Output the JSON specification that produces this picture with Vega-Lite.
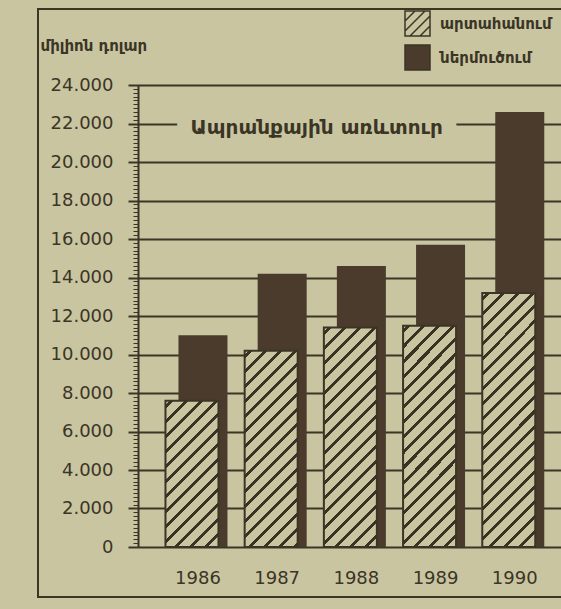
{
  "$schema": "https://vega.github.io/schema/vega-lite/v6.json",
  "width": 563,
  "height": 588,
  "autosize": {"type": "none"},
  "padding": {"left": 38, "top": 9, "right": -40, "bottom": 12},
  "background": "#c9c5a0",
  "config": {"view": {"stroke": "#3b3526", "strokeWidth": 2}},
  "data": {
    "values": [
      {"year": "1986", "series": "արտահանում", "value": 7600},
      {"year": "1986", "series": "ներմուծում", "value": 11000},
      {"year": "1987", "series": "արտահանում", "value": 10200},
      {"year": "1987", "series": "ներմուծում", "value": 14200},
      {"year": "1988", "series": "արտահանում", "value": 11400},
      {"year": "1988", "series": "ներմուծում", "value": 14600},
      {"year": "1989", "series": "արտահանում", "value": 11500},
      {"year": "1989", "series": "ներմուծում", "value": 15700},
      {"year": "1990", "series": "արտահանում", "value": 13200},
      {"year": "1990", "series": "ներմուծում", "value": 22600}
    ]
  },
  "resolve": {"scale": {"y": "shared"}, "axis": {"y": "independent"}},
  "layer": [
    {
      "transform": [{"filter": "datum.series === 'ներմուծում'"}],
      "mark": {"type": "bar", "size": 49, "xOffset": 5},
      "encoding": {
        "x": {
          "field": "year", "type": "nominal",
          "scale": {"range": [100, 563], "paddingInner": 0, "paddingOuter": 0.423, "align": 0.304},
          "axis": {"orient": "bottom", "offset": -50, "domain": false, "ticks": false, "grid": false, "labelAngle": 0, "labelPadding": 22, "labelFont": "DejaVu Sans", "labelFontSize": 18, "labelColor": "#3b3526", "title": null}
        },
        "y": {
          "field": "value", "type": "quantitative",
          "scale": {"domain": [0, 24000], "range": [538, 76], "nice": false},
          "axis": {
            "orient": "left", "offset": -100,
            "values": [0, 2000, 4000, 6000, 8000, 10000, 12000, 14000, 16000, 18000, 20000, 22000, 24000],
            "labelExpr": "replace(format(datum.value, ','), ',', '.')",
            "grid": true, "gridColor": "#3b3526", "gridWidth": 2, "gridOpacity": 1,
            "domain": true, "domainColor": "#3b3526", "domainWidth": 2,
            "ticks": true, "tickSize": 10, "tickWidth": 2, "tickColor": "#3b3526",
            "labelFont": "DejaVu Sans", "labelFontSize": 18, "labelColor": "#3b3526", "labelPadding": 15,
            "title": "միլիոն դոլար", "titleAngle": 0, "titleAlign": "left", "titleBaseline": "middle",
            "titleX": -98, "titleY": 36, "titleFont": "DejaVu Sans", "titleFontSize": 15, "titleFontWeight": "bold", "titleColor": "#3b3526"
          }
        },
        "fill": {
          "field": "series", "type": "nominal",
          "scale": {
            "domain": ["արտահանում", "ներմուծում"],
            "range": ["#c9c5a0", "#4a3b2c"]
          },
          "legend": {
            "orient": "none", "legendX": 366, "legendY": 1, "title": null,
            "symbolType": "square", "symbolSize": 625, "symbolStrokeColor": "#3b3526", "symbolStrokeWidth": 1.5, "symbolOpacity": 1,
            "labelFont": "DejaVu Sans", "labelFontSize": 15, "labelFontWeight": "bold", "labelColor": "#3b3526",
            "rowPadding": 3, "labelOffset": 9, "padding": 0, "labelLimit": 0,
            "encode": {
              "symbols": {
                "update": {
                  "stroke": {"value": "#3b3526"},
                  "strokeWidth": {"value": 1.5},
                  "shape": [
                    {"test": "datum.index === 0", "value": "M-1,-1H1V1H-1Z M-1,-0.2L-0.2,-1 M-1,0.6L0.6,-1 M-0.6,1L1,-0.6 M0.2,1L1,0.2"},
                    {"value": "square"}
                  ]
                }
              }
            }
          }
        }
      }
    },
    {
      "transform": [{"filter": "datum.series === 'արտահանում'"}],
      "mark": {"type": "bar", "size": 53, "xOffset": -6, "stroke": "#3b3526", "strokeWidth": 2},
      "encoding": {
        "x": {"field": "year", "type": "nominal"},
        "y": {
          "field": "value", "type": "quantitative",
          "axis": {
            "orient": "left", "offset": -100,
            "values": [0,200,400,600,800,1000,1200,1400,1600,1800,2000,2200,2400,2600,2800,3000,3200,3400,3600,3800,4000,4200,4400,4600,4800,5000,5200,5400,5600,5800,6000,6200,6400,6600,6800,7000,7200,7400,7600,7800,8000,8200,8400,8600,8800,9000,9200,9400,9600,9800,10000,10200,10400,10600,10800,11000,11200,11400,11600,11800,12000,12200,12400,12600,12800,13000,13200,13400,13600,13800,14000,14200,14400,14600,14800,15000,15200,15400,15600,15800,16000,16200,16400,16600,16800,17000,17200,17400,17600,17800,18000,18200,18400,18600,18800,19000,19200,19400,19600,19800,20000,20200,20400,20600,20800,21000,21200,21400,21600,21800,22000,22200,22400,22600,22800,23000,23200,23400,23600,23800,24000],
            "labels": false, "grid": false, "domain": false, "ticks": true, "tickSize": 5, "tickWidth": 1, "tickColor": "#3b3526", "title": null
          }
        },
        "fill": {
          "condition": [
            {"test": "datum.year === '1986'", "value": {"gradient": "linear", "x1": 0, "y1": 0, "x2": 0.437, "y2": 1.204, "stops": [
              {"offset": 0, "color": "#c9c5a0"},
              {"offset": 0.020, "color": "#c9c5a0"}, {"offset": 0.020, "color": "#3b3224"}, {"offset": 0.040, "color": "#3b3224"}, {"offset": 0.040, "color": "#c9c5a0"},
              {"offset": 0.095, "color": "#c9c5a0"}, {"offset": 0.095, "color": "#3b3224"}, {"offset": 0.116, "color": "#3b3224"}, {"offset": 0.116, "color": "#c9c5a0"},
              {"offset": 0.171, "color": "#c9c5a0"}, {"offset": 0.171, "color": "#3b3224"}, {"offset": 0.191, "color": "#3b3224"}, {"offset": 0.191, "color": "#c9c5a0"},
              {"offset": 0.246, "color": "#c9c5a0"}, {"offset": 0.246, "color": "#3b3224"}, {"offset": 0.266, "color": "#3b3224"}, {"offset": 0.266, "color": "#c9c5a0"},
              {"offset": 0.322, "color": "#c9c5a0"}, {"offset": 0.322, "color": "#3b3224"}, {"offset": 0.342, "color": "#3b3224"}, {"offset": 0.342, "color": "#c9c5a0"},
              {"offset": 0.397, "color": "#c9c5a0"}, {"offset": 0.397, "color": "#3b3224"}, {"offset": 0.417, "color": "#3b3224"}, {"offset": 0.417, "color": "#c9c5a0"},
              {"offset": 0.472, "color": "#c9c5a0"}, {"offset": 0.472, "color": "#3b3224"}, {"offset": 0.492, "color": "#3b3224"}, {"offset": 0.492, "color": "#c9c5a0"},
              {"offset": 0.548, "color": "#c9c5a0"}, {"offset": 0.548, "color": "#3b3224"}, {"offset": 0.568, "color": "#3b3224"}, {"offset": 0.568, "color": "#c9c5a0"},
              {"offset": 0.623, "color": "#c9c5a0"}, {"offset": 0.623, "color": "#3b3224"}, {"offset": 0.643, "color": "#3b3224"}, {"offset": 0.643, "color": "#c9c5a0"},
              {"offset": 0.698, "color": "#c9c5a0"}, {"offset": 0.698, "color": "#3b3224"}, {"offset": 0.719, "color": "#3b3224"}, {"offset": 0.719, "color": "#c9c5a0"},
              {"offset": 0.774, "color": "#c9c5a0"}, {"offset": 0.774, "color": "#3b3224"}, {"offset": 0.794, "color": "#3b3224"}, {"offset": 0.794, "color": "#c9c5a0"},
              {"offset": 0.849, "color": "#c9c5a0"}, {"offset": 0.849, "color": "#3b3224"}, {"offset": 0.869, "color": "#3b3224"}, {"offset": 0.869, "color": "#c9c5a0"},
              {"offset": 0.925, "color": "#c9c5a0"}, {"offset": 0.925, "color": "#3b3224"}, {"offset": 0.945, "color": "#3b3224"}, {"offset": 0.945, "color": "#c9c5a0"},
              {"offset": 1, "color": "#c9c5a0"}
            ]}},
            {"test": "datum.year === '1987'", "value": {"gradient": "linear", "x1": 0, "y1": 0, "x2": 0.320, "y2": 1.184, "stops": [
              {"offset": 0, "color": "#c9c5a0"},
              {"offset": 0.016, "color": "#c9c5a0"}, {"offset": 0.016, "color": "#3b3224"}, {"offset": 0.032, "color": "#3b3224"}, {"offset": 0.032, "color": "#c9c5a0"},
              {"offset": 0.076, "color": "#c9c5a0"}, {"offset": 0.076, "color": "#3b3224"}, {"offset": 0.092, "color": "#3b3224"}, {"offset": 0.092, "color": "#c9c5a0"},
              {"offset": 0.137, "color": "#c9c5a0"}, {"offset": 0.137, "color": "#3b3224"}, {"offset": 0.153, "color": "#3b3224"}, {"offset": 0.153, "color": "#c9c5a0"},
              {"offset": 0.197, "color": "#c9c5a0"}, {"offset": 0.197, "color": "#3b3224"}, {"offset": 0.213, "color": "#3b3224"}, {"offset": 0.213, "color": "#c9c5a0"},
              {"offset": 0.257, "color": "#c9c5a0"}, {"offset": 0.257, "color": "#3b3224"}, {"offset": 0.273, "color": "#3b3224"}, {"offset": 0.273, "color": "#c9c5a0"},
              {"offset": 0.317, "color": "#c9c5a0"}, {"offset": 0.317, "color": "#3b3224"}, {"offset": 0.333, "color": "#3b3224"}, {"offset": 0.333, "color": "#c9c5a0"},
              {"offset": 0.378, "color": "#c9c5a0"}, {"offset": 0.378, "color": "#3b3224"}, {"offset": 0.394, "color": "#3b3224"}, {"offset": 0.394, "color": "#c9c5a0"},
              {"offset": 0.438, "color": "#c9c5a0"}, {"offset": 0.438, "color": "#3b3224"}, {"offset": 0.454, "color": "#3b3224"}, {"offset": 0.454, "color": "#c9c5a0"},
              {"offset": 0.498, "color": "#c9c5a0"}, {"offset": 0.498, "color": "#3b3224"}, {"offset": 0.514, "color": "#3b3224"}, {"offset": 0.514, "color": "#c9c5a0"},
              {"offset": 0.558, "color": "#c9c5a0"}, {"offset": 0.558, "color": "#3b3224"}, {"offset": 0.574, "color": "#3b3224"}, {"offset": 0.574, "color": "#c9c5a0"},
              {"offset": 0.618, "color": "#c9c5a0"}, {"offset": 0.618, "color": "#3b3224"}, {"offset": 0.635, "color": "#3b3224"}, {"offset": 0.635, "color": "#c9c5a0"},
              {"offset": 0.679, "color": "#c9c5a0"}, {"offset": 0.679, "color": "#3b3224"}, {"offset": 0.695, "color": "#3b3224"}, {"offset": 0.695, "color": "#c9c5a0"},
              {"offset": 0.739, "color": "#c9c5a0"}, {"offset": 0.739, "color": "#3b3224"}, {"offset": 0.755, "color": "#3b3224"}, {"offset": 0.755, "color": "#c9c5a0"},
              {"offset": 0.799, "color": "#c9c5a0"}, {"offset": 0.799, "color": "#3b3224"}, {"offset": 0.815, "color": "#3b3224"}, {"offset": 0.815, "color": "#c9c5a0"},
              {"offset": 0.859, "color": "#c9c5a0"}, {"offset": 0.859, "color": "#3b3224"}, {"offset": 0.876, "color": "#3b3224"}, {"offset": 0.876, "color": "#c9c5a0"},
              {"offset": 0.920, "color": "#c9c5a0"}, {"offset": 0.920, "color": "#3b3224"}, {"offset": 0.936, "color": "#3b3224"}, {"offset": 0.936, "color": "#c9c5a0"},
              {"offset": 0.980, "color": "#c9c5a0"}, {"offset": 0.980, "color": "#3b3224"}, {"offset": 0.996, "color": "#3b3224"}, {"offset": 0.996, "color": "#c9c5a0"},
              {"offset": 1, "color": "#c9c5a0"}
            ]}},
            {"test": "datum.year === '1990'", "value": {"gradient": "linear", "x1": 0, "y1": 0, "x2": 0.242, "y2": 1.158, "stops": [
              {"offset": 0, "color": "#c9c5a0"},
              {"offset": 0.013, "color": "#c9c5a0"}, {"offset": 0.013, "color": "#3b3224"}, {"offset": 0.026, "color": "#3b3224"}, {"offset": 0.026, "color": "#c9c5a0"},
              {"offset": 0.062, "color": "#c9c5a0"}, {"offset": 0.062, "color": "#3b3224"}, {"offset": 0.075, "color": "#3b3224"}, {"offset": 0.075, "color": "#c9c5a0"},
              {"offset": 0.111, "color": "#c9c5a0"}, {"offset": 0.111, "color": "#3b3224"}, {"offset": 0.124, "color": "#3b3224"}, {"offset": 0.124, "color": "#c9c5a0"},
              {"offset": 0.160, "color": "#c9c5a0"}, {"offset": 0.160, "color": "#3b3224"}, {"offset": 0.173, "color": "#3b3224"}, {"offset": 0.173, "color": "#c9c5a0"},
              {"offset": 0.208, "color": "#c9c5a0"}, {"offset": 0.208, "color": "#3b3224"}, {"offset": 0.221, "color": "#3b3224"}, {"offset": 0.221, "color": "#c9c5a0"},
              {"offset": 0.257, "color": "#c9c5a0"}, {"offset": 0.257, "color": "#3b3224"}, {"offset": 0.270, "color": "#3b3224"}, {"offset": 0.270, "color": "#c9c5a0"},
              {"offset": 0.306, "color": "#c9c5a0"}, {"offset": 0.306, "color": "#3b3224"}, {"offset": 0.319, "color": "#3b3224"}, {"offset": 0.319, "color": "#c9c5a0"},
              {"offset": 0.355, "color": "#c9c5a0"}, {"offset": 0.355, "color": "#3b3224"}, {"offset": 0.368, "color": "#3b3224"}, {"offset": 0.368, "color": "#c9c5a0"},
              {"offset": 0.404, "color": "#c9c5a0"}, {"offset": 0.404, "color": "#3b3224"}, {"offset": 0.417, "color": "#3b3224"}, {"offset": 0.417, "color": "#c9c5a0"},
              {"offset": 0.453, "color": "#c9c5a0"}, {"offset": 0.453, "color": "#3b3224"}, {"offset": 0.466, "color": "#3b3224"}, {"offset": 0.466, "color": "#c9c5a0"},
              {"offset": 0.502, "color": "#c9c5a0"}, {"offset": 0.502, "color": "#3b3224"}, {"offset": 0.515, "color": "#3b3224"}, {"offset": 0.515, "color": "#c9c5a0"},
              {"offset": 0.550, "color": "#c9c5a0"}, {"offset": 0.550, "color": "#3b3224"}, {"offset": 0.564, "color": "#3b3224"}, {"offset": 0.564, "color": "#c9c5a0"},
              {"offset": 0.599, "color": "#c9c5a0"}, {"offset": 0.599, "color": "#3b3224"}, {"offset": 0.612, "color": "#3b3224"}, {"offset": 0.612, "color": "#c9c5a0"},
              {"offset": 0.648, "color": "#c9c5a0"}, {"offset": 0.648, "color": "#3b3224"}, {"offset": 0.661, "color": "#3b3224"}, {"offset": 0.661, "color": "#c9c5a0"},
              {"offset": 0.697, "color": "#c9c5a0"}, {"offset": 0.697, "color": "#3b3224"}, {"offset": 0.710, "color": "#3b3224"}, {"offset": 0.710, "color": "#c9c5a0"},
              {"offset": 0.746, "color": "#c9c5a0"}, {"offset": 0.746, "color": "#3b3224"}, {"offset": 0.759, "color": "#3b3224"}, {"offset": 0.759, "color": "#c9c5a0"},
              {"offset": 0.795, "color": "#c9c5a0"}, {"offset": 0.795, "color": "#3b3224"}, {"offset": 0.808, "color": "#3b3224"}, {"offset": 0.808, "color": "#c9c5a0"},
              {"offset": 0.844, "color": "#c9c5a0"}, {"offset": 0.844, "color": "#3b3224"}, {"offset": 0.857, "color": "#3b3224"}, {"offset": 0.857, "color": "#c9c5a0"},
              {"offset": 0.893, "color": "#c9c5a0"}, {"offset": 0.893, "color": "#3b3224"}, {"offset": 0.906, "color": "#3b3224"}, {"offset": 0.906, "color": "#c9c5a0"},
              {"offset": 0.941, "color": "#c9c5a0"}, {"offset": 0.941, "color": "#3b3224"}, {"offset": 0.954, "color": "#3b3224"}, {"offset": 0.954, "color": "#c9c5a0"},
              {"offset": 0.990, "color": "#c9c5a0"}, {"offset": 0.990, "color": "#3b3224"}, {"offset": 1, "color": "#3b3224"}
            ]}}
          ],
          "value": {"gradient": "linear", "x1": 0, "y1": 0, "x2": 0.283, "y2": 1.172, "stops": [
            {"offset": 0, "color": "#c9c5a0"},
            {"offset": 0.015, "color": "#c9c5a0"}, {"offset": 0.015, "color": "#3b3224"}, {"offset": 0.029, "color": "#3b3224"}, {"offset": 0.029, "color": "#c9c5a0"},
            {"offset": 0.070, "color": "#c9c5a0"}, {"offset": 0.070, "color": "#3b3224"}, {"offset": 0.085, "color": "#3b3224"}, {"offset": 0.085, "color": "#c9c5a0"},
            {"offset": 0.125, "color": "#c9c5a0"}, {"offset": 0.125, "color": "#3b3224"}, {"offset": 0.140, "color": "#3b3224"}, {"offset": 0.140, "color": "#c9c5a0"},
            {"offset": 0.180, "color": "#c9c5a0"}, {"offset": 0.180, "color": "#3b3224"}, {"offset": 0.195, "color": "#3b3224"}, {"offset": 0.195, "color": "#c9c5a0"},
            {"offset": 0.235, "color": "#c9c5a0"}, {"offset": 0.235, "color": "#3b3224"}, {"offset": 0.250, "color": "#3b3224"}, {"offset": 0.250, "color": "#c9c5a0"},
            {"offset": 0.290, "color": "#c9c5a0"}, {"offset": 0.290, "color": "#3b3224"}, {"offset": 0.305, "color": "#3b3224"}, {"offset": 0.305, "color": "#c9c5a0"},
            {"offset": 0.346, "color": "#c9c5a0"}, {"offset": 0.346, "color": "#3b3224"}, {"offset": 0.360, "color": "#3b3224"}, {"offset": 0.360, "color": "#c9c5a0"},
            {"offset": 0.401, "color": "#c9c5a0"}, {"offset": 0.401, "color": "#3b3224"}, {"offset": 0.415, "color": "#3b3224"}, {"offset": 0.415, "color": "#c9c5a0"},
            {"offset": 0.456, "color": "#c9c5a0"}, {"offset": 0.456, "color": "#3b3224"}, {"offset": 0.471, "color": "#3b3224"}, {"offset": 0.471, "color": "#c9c5a0"},
            {"offset": 0.511, "color": "#c9c5a0"}, {"offset": 0.511, "color": "#3b3224"}, {"offset": 0.526, "color": "#3b3224"}, {"offset": 0.526, "color": "#c9c5a0"},
            {"offset": 0.566, "color": "#c9c5a0"}, {"offset": 0.566, "color": "#3b3224"}, {"offset": 0.581, "color": "#3b3224"}, {"offset": 0.581, "color": "#c9c5a0"},
            {"offset": 0.621, "color": "#c9c5a0"}, {"offset": 0.621, "color": "#3b3224"}, {"offset": 0.636, "color": "#3b3224"}, {"offset": 0.636, "color": "#c9c5a0"},
            {"offset": 0.676, "color": "#c9c5a0"}, {"offset": 0.676, "color": "#3b3224"}, {"offset": 0.691, "color": "#3b3224"}, {"offset": 0.691, "color": "#c9c5a0"},
            {"offset": 0.732, "color": "#c9c5a0"}, {"offset": 0.732, "color": "#3b3224"}, {"offset": 0.746, "color": "#3b3224"}, {"offset": 0.746, "color": "#c9c5a0"},
            {"offset": 0.787, "color": "#c9c5a0"}, {"offset": 0.787, "color": "#3b3224"}, {"offset": 0.801, "color": "#3b3224"}, {"offset": 0.801, "color": "#c9c5a0"},
            {"offset": 0.842, "color": "#c9c5a0"}, {"offset": 0.842, "color": "#3b3224"}, {"offset": 0.857, "color": "#3b3224"}, {"offset": 0.857, "color": "#c9c5a0"},
            {"offset": 0.897, "color": "#c9c5a0"}, {"offset": 0.897, "color": "#3b3224"}, {"offset": 0.912, "color": "#3b3224"}, {"offset": 0.912, "color": "#c9c5a0"},
            {"offset": 0.952, "color": "#c9c5a0"}, {"offset": 0.952, "color": "#3b3224"}, {"offset": 0.967, "color": "#3b3224"}, {"offset": 0.967, "color": "#c9c5a0"},
            {"offset": 1, "color": "#c9c5a0"}
          ]}
        }
      }
    },
    {
      "data": {"values": [{"t": "Ապրանքային առևտուր"}]},
      "mark": {"type": "text", "font": "DejaVu Sans", "fontSize": 20, "fontWeight": "bold", "fill": "#c9c5a0", "stroke": "#c9c5a0", "strokeWidth": 30, "strokeJoin": "round", "baseline": "middle", "align": "center", "dy": 4},
      "encoding": {
        "x": {"datum": "1988", "type": "nominal", "bandPosition": 0},
        "y": {"datum": 22000, "type": "quantitative", "axis": null},
        "text": {"field": "t"}
      }
    },
    {
      "data": {"values": [{"t": "Ապրանքային առևտուր"}]},
      "mark": {"type": "text", "font": "DejaVu Sans", "fontSize": 20, "fontWeight": "bold", "fill": "#3b3526", "baseline": "middle", "align": "center", "dy": 4},
      "encoding": {
        "x": {"datum": "1988", "type": "nominal", "bandPosition": 0},
        "y": {"datum": 22000, "type": "quantitative", "axis": null},
        "text": {"field": "t"}
      }
    }
  ]
}
